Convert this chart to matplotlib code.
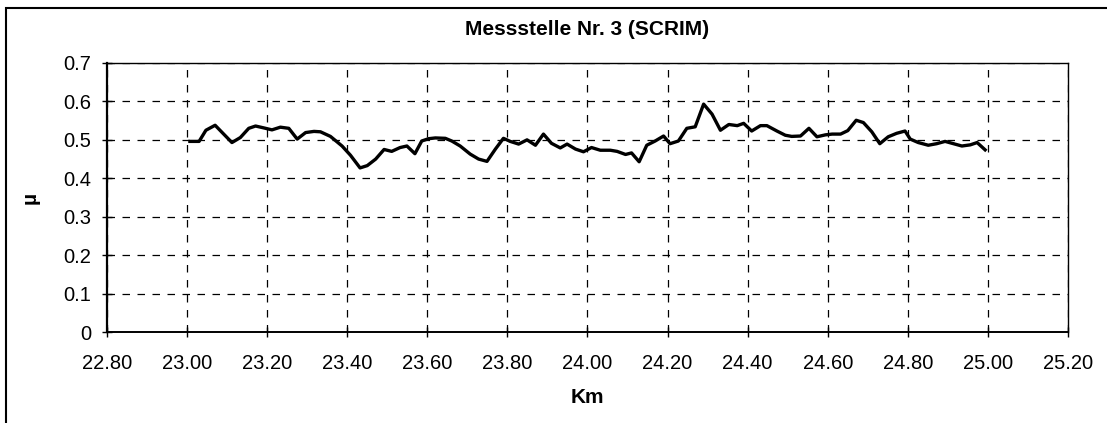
import numpy as np
import matplotlib
matplotlib.use("Agg")
import matplotlib.pyplot as plt
from matplotlib.patches import Rectangle

plt.rcParams['font.family'] = ['Liberation Sans', 'DejaVu Sans']

# km position along the road and SCRIM friction value
km = [23.007, 23.030, 23.047, 23.070, 23.112, 23.133, 23.154, 23.171, 23.192, 23.212,
      23.233, 23.254, 23.275, 23.296, 23.317, 23.333, 23.358, 23.387, 23.408, 23.432,
      23.450, 23.471, 23.492, 23.511, 23.532, 23.549, 23.569, 23.586, 23.603, 23.620,
      23.645, 23.661, 23.682, 23.707, 23.728, 23.749, 23.770, 23.790, 23.807, 23.828,
      23.849, 23.870, 23.890, 23.910, 23.932, 23.949, 23.970, 23.990, 24.010, 24.032,
      24.057, 24.074, 24.095, 24.110, 24.129, 24.148, 24.169, 24.190, 24.206, 24.227,
      24.248, 24.269, 24.290, 24.311, 24.332, 24.353, 24.374, 24.390, 24.410, 24.432,
      24.448, 24.473, 24.494, 24.510, 24.532, 24.553, 24.573, 24.594, 24.611, 24.632,
      24.650, 24.671, 24.689, 24.710, 24.730, 24.751, 24.772, 24.793, 24.806, 24.826,
      24.851, 24.872, 24.893, 24.914, 24.935, 24.956, 24.973, 24.993]
mu = [0.496, 0.496, 0.525, 0.538, 0.493, 0.506, 0.530, 0.536, 0.531, 0.526,
      0.533, 0.530, 0.502, 0.519, 0.522, 0.521, 0.509, 0.484, 0.460, 0.427,
      0.433, 0.450, 0.475, 0.470, 0.480, 0.484, 0.464, 0.497, 0.503, 0.505,
      0.504, 0.497, 0.484, 0.463, 0.450, 0.444, 0.476, 0.504, 0.496, 0.489,
      0.500, 0.486, 0.515, 0.491, 0.479, 0.489, 0.476, 0.469, 0.480, 0.473,
      0.473, 0.470, 0.462, 0.466, 0.443, 0.486, 0.497, 0.510, 0.490, 0.497,
      0.530, 0.534, 0.593, 0.567, 0.525, 0.540, 0.537, 0.543, 0.523, 0.537,
      0.537, 0.523, 0.512, 0.509, 0.510, 0.530, 0.508, 0.513, 0.515, 0.515,
      0.524, 0.551, 0.545, 0.521, 0.490, 0.508, 0.517, 0.523, 0.502, 0.493,
      0.486, 0.490, 0.496, 0.490, 0.484, 0.487, 0.493, 0.474]

xticks = np.arange(22.8, 25.21, 0.2)
yticks = np.arange(0, 0.71, 0.1)

fig = plt.figure(figsize=(11.07, 4.23), dpi=100)
ax = fig.add_axes([107 / 1107, 91 / 423, 961 / 1107, 269 / 423])

ax.plot(km, mu, color='black', lw=2.4, zorder=3)

ax.set_xlim(22.8, 25.2)
ax.set_ylim(0, 0.7)
ax.set_xticks(xticks)
ax.set_yticks(yticks)
ax.set_xticklabels(['%.2f' % t for t in xticks])
ax.set_yticklabels(['0'] + ['%.1f' % t for t in yticks[1:]])
ax.tick_params(direction='inout', length=7, width=1, labelsize=14.5)
ax.tick_params(axis='x', pad=12)
ax.tick_params(axis='y', pad=8)
ax.grid(True, color='black', linestyle=(0, (6, 6)), lw=0.9)

for s in ax.spines.values():
    s.set_linewidth(1.0)
ax.spines['left'].set_linewidth(1.6)
ax.spines['bottom'].set_linewidth(1.4)

ax.set_title('Messstelle Nr. 3 (SCRIM)', fontsize=15, fontweight='bold', pad=20)
ax.set_xlabel('Km', fontsize=15, fontweight='bold', labelpad=11)
ax.set_ylabel('\u00b5', fontsize=15, fontweight='bold', labelpad=17)

# frame around the whole chart (cut at the right and bottom edge)
fig.patches.append(Rectangle((6 / 1107, -0.05), 1.2, (423 - 8) / 423 + 0.05,
                             transform=fig.transFigure, fill=False,
                             edgecolor='black', lw=1.5))

fig.savefig('out.png', dpi=100)
